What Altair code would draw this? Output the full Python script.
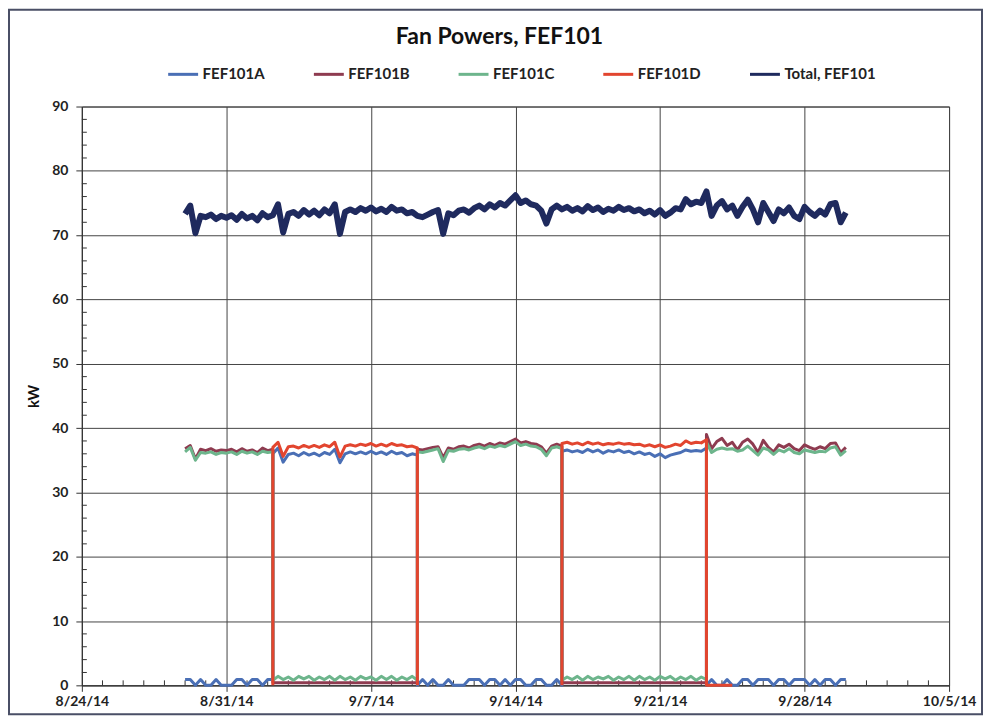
import altair as alt
import pandas as pd

# ---------------- data ----------------
SERIES = ["FEF101A", "FEF101B", "FEF101C", "FEF101D", "Total, FEF101"]
COLORS = ["#4a6fb5", "#8e3b50", "#6db58c", "#e2452f", "#1f2a5e"]
WIDTHS = [3, 3, 3, 3, 6]

START = "2014-08-29 00:00"      # first sample
STEP = "6h"                     # sampling step
N_STEPS = 129                   # 8/29 00:00 ... 9/30 00:00
# period starts (index): 8/29 00h, 9/2 06h, 9/9 06h, 9/16 06h, 9/23 06h
P_START = [0, 17, 45, 73, 101]

TOTAL = [
    73.3, 74.6, 70.3, 73.0,   # 8/29
    72.8, 73.2, 72.5, 73.0,   # 8/30
    72.7, 73.1, 72.4, 73.3,   # 8/31
    72.6, 73.0, 72.3, 73.4,   # 9/1
    72.8, 73.1, 74.8, 70.4,   # 9/2
    73.3, 73.6, 73.0, 73.9,   # 9/3
    73.2, 73.8, 73.1, 74.0,   # 9/4
    73.4, 74.8, 70.2, 73.6,   # 9/5
    74.0, 73.6, 74.2, 73.8,   # 9/6
    74.3, 73.7, 74.1, 73.6,   # 9/7
    74.4, 73.8, 74.0, 73.4,   # 9/8
    73.6, 73.0, 72.8, 73.2,   # 9/9
    73.6, 73.9, 70.2, 73.4,   # 9/10
    73.1, 73.8, 74.0, 73.5,   # 9/11
    74.2, 74.6, 74.0, 74.8,   # 9/12
    74.3, 75.0, 74.6, 75.4,   # 9/13
    76.2, 75.0, 75.4, 74.8,   # 9/14
    74.6, 73.8, 71.8, 74.0,   # 9/15
    74.6, 74.0, 74.4, 73.8,   # 9/16
    74.2, 73.7, 74.5, 73.9,   # 9/17
    74.3, 73.6, 74.1, 73.8,   # 9/18
    74.4, 73.9, 74.2, 73.7,   # 9/19
    74.0, 73.4, 73.8, 73.2,   # 9/20
    73.9, 73.0, 73.5, 74.2,   # 9/21
    74.0, 75.6, 74.8, 75.2,   # 9/22
    75.0, 76.8, 73.0, 74.6,   # 9/23
    75.3, 74.0, 74.6, 73.0,   # 9/24
    74.4, 75.5, 74.0, 72.0,   # 9/25
    75.0, 73.6, 72.2, 74.0,   # 9/26
    73.4, 74.3, 73.0, 72.5,   # 9/27
    74.4, 73.6, 73.0, 73.8,   # 9/28
    73.2, 74.8, 75.0, 72.0,   # 9/29
    73.5,                     # 9/30
]

# FEF101A
A_OFF_P1 = [0.9, 0.9, 0, 0.9, 0, 0, 0.9, 0, 0, 0, 0.9, 0.9, 0, 0.9, 0.9, 0, 0.9, 0.9]
A_ON_P2 = [36.0, 36.9, 34.7, 35.9, 36.1, 35.7, 36.2, 35.8, 36.1, 35.7, 36.2, 35.9, 36.7, 34.6, 36.0,
           36.3, 36.0, 36.3, 36.0, 36.4, 36.0, 36.3, 35.9, 36.4, 36.0, 36.2, 35.7, 36.0, 35.8]
A_OFF_P3 = [0, 0.9, 0, 0.9, 0, 0, 0.9, 0, 0, 0, 0.9, 0.9, 0.9, 0, 0.9, 0.9, 0, 0.9, 0, 0.9,
            0.9, 0, 0, 0.9, 0.9, 0, 0, 0.9, 0]
A_ON_P4 = [36.4, 36.6, 36.3, 36.5, 36.2, 36.7, 36.3, 36.6, 36.1, 36.5, 36.3, 36.6, 36.2, 36.4, 36.0,
           36.3, 35.9, 36.1, 35.6, 36.0, 35.4, 35.8, 36.0, 36.2, 36.6, 36.4, 36.5, 36.4, 36.9]
A_OFF_P5 = [0, 0.9, 0, 0, 0.9, 0, 0, 0.9, 0.9, 0, 0.9, 0.9, 0.9, 0, 0.9, 0.9, 0, 0.9, 0.9, 0.9,
            0, 0.9, 0, 0.9, 0.9, 0, 0.9, 0.9]

# FEF101B
B_ON_P1 = [36.8, 37.3, 35.2, 36.7, 36.5, 36.8, 36.4, 36.6, 36.5, 36.7, 36.3, 36.8, 36.4, 36.6, 36.2,
           36.9, 36.5, 36.7]
B_OFF = 0.4
B_ON_P3 = [36.7, 36.6, 36.8, 37.0, 37.1, 35.4, 36.9, 36.7, 37.1, 37.2, 36.9, 37.3, 37.5, 37.2, 37.6,
           37.3, 37.7, 37.5, 37.9, 38.3, 37.7, 37.9, 37.6, 37.5, 37.1, 36.1, 37.2, 37.5, 37.2]
B_ON_P5 = [39.0, 36.8, 37.9, 38.4, 37.3, 37.8, 36.6, 37.8, 38.3, 37.5, 36.2, 38.1, 37.0, 36.3, 37.4,
           37.0, 37.5, 36.8, 36.5, 37.4, 37.0, 36.7, 37.1, 36.8, 37.6, 37.7, 36.2, 37.0]

# FEF101C
C_ON_P1 = [36.3, 37.0, 35.0, 36.2, 36.1, 36.3, 35.9, 36.2, 36.1, 36.3, 35.9, 36.4, 36.1, 36.3, 35.9,
           36.4, 36.2, 36.3]
C_OFF_P2 = [0.8, 1.4, 0.9, 1.3, 0.8, 1.4, 1.0, 1.4, 0.8, 1.3, 0.9, 1.4, 0.8, 1.4, 0.9, 1.3, 0.8, 1.4,
            1.0, 1.3, 0.8, 1.4, 0.9, 1.4, 0.8, 1.3, 0.9, 1.4, 0.8]
C_ON_P3 = [36.3, 36.2, 36.4, 36.6, 36.8, 34.8, 36.5, 36.4, 36.7, 36.8, 36.6, 36.9, 37.1, 36.8, 37.2,
           37.0, 37.3, 37.1, 37.5, 37.9, 37.3, 37.5, 37.2, 37.1, 36.7, 35.7, 36.9, 37.1, 36.8]
C_OFF_P4 = [0.8, 1.3, 0.9, 1.4, 0.8, 1.4, 0.9, 1.3, 1.0, 1.4, 0.8, 1.3, 0.9, 1.4, 0.8, 1.4, 0.9, 1.3,
            0.8, 1.4, 1.0, 1.4, 0.8, 1.3, 0.9, 1.4, 0.8, 1.3, 0.9]
C_ON_P5 = [37.8, 36.2, 36.7, 36.9, 36.7, 36.8, 36.4, 36.6, 37.2, 36.5, 35.8, 36.9, 36.6, 35.9, 36.6,
           36.3, 36.8, 36.2, 36.0, 36.6, 36.4, 36.2, 36.4, 36.3, 36.9, 37.1, 35.8, 36.5]

# FEF101D
D_ON_P2 = [37.0, 37.8, 35.6, 37.1, 37.2, 36.9, 37.3, 37.0, 37.3, 37.0, 37.4, 37.1, 37.8, 35.5, 37.2,
           37.4, 37.2, 37.5, 37.3, 37.6, 37.2, 37.5, 37.2, 37.6, 37.3, 37.4, 37.1, 37.2, 36.9]
D_ON_P4 = [37.6, 37.8, 37.5, 37.7, 37.4, 37.8, 37.5, 37.7, 37.4, 37.6, 37.5, 37.7, 37.5, 37.6, 37.4,
           37.5, 37.2, 37.4, 37.1, 37.4, 37.0, 37.2, 37.5, 37.3, 38.0, 37.6, 37.8, 37.7, 38.2]
D_OFF_AFTER = [0.0, 0.0, 0.0, 0.0, 0.0, 0.0]

# axis ticks
X_DOMAIN = [(2014, 8, 24), (2014, 10, 5)]
X_MAJOR = [(2014, 8, 24), (2014, 8, 31), (2014, 9, 7), (2014, 9, 14), (2014, 9, 21),
           (2014, 9, 28), (2014, 10, 5)]
Y_MAJOR = [0, 10, 20, 30, 40, 50, 60, 70, 80, 90]
Y_MINOR = [v for v in range(2, 90, 2) if v % 10]

# ---------------- table ----------------
assert len(TOTAL) == N_STEPS
times = pd.date_range(START, periods=N_STEPS, freq=STEP).strftime("%Y-%m-%dT%H:%M:%S").tolist()
rows = []


def add(series, seg, start, values):
    for k, v in enumerate(values):
        rows.append({"series": series, "seg": f"{series}-{seg}", "time": times[start + k],
                     "kw": v, "seq": len(rows)})


p1, p2, p3, p4, p5 = P_START
add("FEF101A", 0, p1, A_OFF_P1)
add("FEF101A", 0, p2, A_ON_P2)
add("FEF101A", 0, p3, A_OFF_P3)
add("FEF101A", 0, p4, A_ON_P4)
add("FEF101A", 0, p5, A_OFF_P5)

add("FEF101B", 0, p1, B_ON_P1)
add("FEF101B", 0, p2, [B_OFF] * (p3 - p2 + 1))
add("FEF101B", 0, p3, B_ON_P3)
add("FEF101B", 0, p4, [B_OFF] * (p5 - p4 + 1))
add("FEF101B", 0, p5, B_ON_P5)

add("FEF101C", 0, p1, C_ON_P1)
add("FEF101C", 0, p2, C_OFF_P2)
add("FEF101C", 0, p3, C_ON_P3)
add("FEF101C", 0, p4, C_OFF_P4)
add("FEF101C", 0, p5, C_ON_P5)

add("FEF101D", 1, p2, [0.0])
add("FEF101D", 1, p2, D_ON_P2)
add("FEF101D", 1, p3, [0.0])
add("FEF101D", 2, p4, [0.0])
add("FEF101D", 2, p4, D_ON_P4)
add("FEF101D", 2, p5, D_OFF_AFTER)

add("Total, FEF101", 0, 0, TOTAL)
df = pd.DataFrame(rows)


def dt(t):
    return alt.DateTime(year=t[0], month=t[1], date=t[2])


X_MINOR = [d.strftime("%Y-%m-%dT00:00:00")
           for d in pd.date_range("2014-08-25", "2014-10-04", freq="D") if d.dayofweek != 6]

# ---------------- chart ----------------
PLOT_W, PLOT_H = 869, 580
FONT = "Lato"

X_ENC = alt.X(
    "time:T",
    scale=alt.Scale(domain=[dt(X_DOMAIN[0]), dt(X_DOMAIN[1])], nice=False),
    axis=alt.Axis(values=[dt(t) for t in X_MAJOR], format="%-m/%-d/%y", title=None,
                  grid=True, labelPadding=3, labelFlush=False),
)
Y_ENC = alt.Y(
    "kw:Q",
    scale=alt.Scale(domain=[0, 90], nice=False),
    axis=alt.Axis(values=Y_MAJOR, title="kW", grid=True, labelPadding=8,
                  titleFontSize=15, titleFontWeight="bold", titlePadding=10, titleColor="#111"),
)
COLOR_ENC = alt.Color(
    "series:N",
    scale=alt.Scale(domain=SERIES, range=COLORS),
    sort=SERIES,
    legend=alt.Legend(title=None, orient="none", legendX=85, legendY=-49, direction="horizontal",
                      symbolType="stroke", symbolSize=900, symbolStrokeWidth=3,
                      labelFont=FONT, labelFontSize=15, labelFontWeight="bold", labelColor="#222",
                      labelOffset=3, columnPadding=42),
)

layers = []
for s, w in zip(SERIES, WIDTHS):
    layers.append(
        alt.Chart(df).transform_filter(alt.datum.series == s)
        .mark_line(strokeWidth=w, strokeJoin="round")
        .encode(x=X_ENC, y=Y_ENC, color=COLOR_ENC, detail="seg:N", order="seq:Q")
    )

y_minor = alt.Chart(pd.DataFrame({"kw": Y_MINOR})).mark_rule(color="#333", strokeWidth=1).encode(
    y=Y_ENC, x=alt.value(0), x2=alt.value(5))
x_minor = alt.Chart(pd.DataFrame({"time": X_MINOR})).mark_rule(color="#333", strokeWidth=1).encode(
    x=X_ENC, y=alt.value(PLOT_H - 5), y2=alt.value(PLOT_H))
frame = alt.Chart(pd.DataFrame({"f": [0]})).mark_rect(
    fillOpacity=0, stroke="#4a4f66", strokeWidth=2).encode(
    x=alt.value(-73), x2=alt.value(PLOT_W + 33), y=alt.value(-97), y2=alt.value(PLOT_H + 29))

chart = (
    alt.layer(y_minor, x_minor, *layers, frame)
    .properties(
        width=PLOT_W, height=PLOT_H,
        title=alt.Title("Fan Powers, FEF101", font=FONT, fontSize=23, fontWeight="bold",
                        color="#111", anchor="middle", dx=-16, offset=-40),
        autosize=alt.AutoSizeParams(type="none"),
        padding={"left": 74, "top": 98, "right": 35, "bottom": 30},
    )
    .configure(font=FONT)
    .configure_axis(labelFont=FONT, labelFontSize=14, labelFontWeight="bold", labelColor="#222",
                    domainColor="#333", tickColor="#333", gridColor="#444", gridWidth=1,
                    tickSize=6, titleFont=FONT)
    .configure_view(stroke="#444")
    .configure_title(font=FONT)
)

chart.save("out.html", embed_options={"renderer": "svg", "actions": False})
